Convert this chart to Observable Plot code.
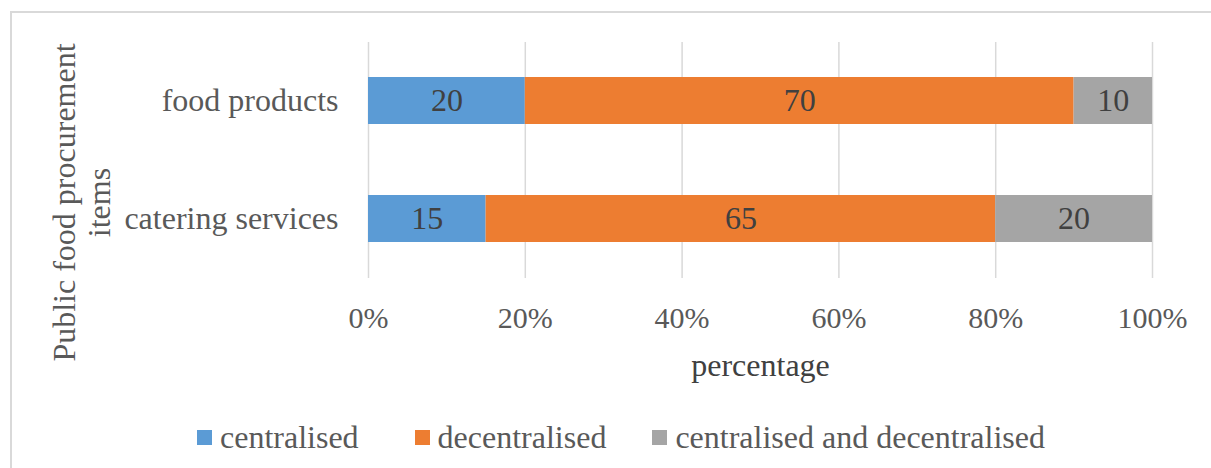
<!DOCTYPE html>
<html>
<head>
<meta charset="utf-8">
<script src="https://cdn.jsdelivr.net/npm/d3@7"></script>
<script src="https://cdn.jsdelivr.net/npm/@observablehq/plot@0.6"></script>
<style>
  html, body { margin: 0; padding: 0; background: #fff; overflow: hidden; }
  #wrap { position: relative; width: 1211px; height: 468px; }
  #frame { position: absolute; left: 10px; top: 11px; width: 1240px; height: 520px; border: 2px solid #d9d9d9; box-sizing: border-box; }
  #chart { position: absolute; left: 0; top: 0; }
  #legend { position: absolute; left: 197px; top: 419px; height: 36px; display: flex; align-items: center;
            font-family: "Liberation Serif", "Times New Roman", serif; font-size: 32px; color: #595959; white-space: nowrap; }
  .item { display: flex; align-items: center; }
  .sw { width: 15px; height: 15px; margin-right: 8px; }
</style>
</head>
<body>
<div id="wrap">
  <div id="frame"></div>
  <div id="chart"></div>
  <div id="legend"></div>
</div>
<script>
const items = ["food products", "catering services"];
const seriesNames = ["centralised", "decentralised", "centralised and decentralised"];
const centralised = [20, 15];
const decentralised = [70, 65];
const centralisedAndDecentralised = [10, 20];
const seriesColors = ["#5B9BD5", "#ED7D31", "#A5A5A5"];
const xTicks = [0, 20, 40, 60, 80, 100];
const yTitle = "Public food procurement\nitems";
const xTitle = "percentage";

const seriesValues = [centralised, decentralised, centralisedAndDecentralised];
const data = [];
seriesNames.forEach((s, si) => {
  items.forEach((it, i) => data.push({item: it, series: s, value: seriesValues[si][i]}));
});

const chart = Plot.plot({
  width: 1211,
  height: 400,
  marginLeft: 368,
  marginRight: 59,
  marginTop: 42,
  marginBottom: 122,
  style: {fontFamily: "'Liberation Serif', 'Times New Roman', serif", fontSize: "30px", color: "#595959", background: "transparent"},
  x: {domain: [0, 100]},
  y: {domain: items, paddingInner: 0.6, paddingOuter: 0.3},
  color: {domain: seriesNames, range: seriesColors},
  marks: [
    Plot.ruleX(xTicks, {stroke: "#d9d9d9", strokeWidth: 1.5}),
    Plot.barX(data, Plot.stackX({x: "value", y: "item", fill: "series", order: seriesNames})),
    Plot.text(data, Plot.stackX({x: "value", y: "item", z: "series", order: seriesNames, text: d => String(d.value), fill: "#404040", fontSize: 32})),
    Plot.axisX({ticks: xTicks, tickFormat: d => d + "%", tickSize: 0, tickPadding: 28, label: null, fontSize: 30}),
    Plot.axisY({tickSize: 0, tickPadding: 30, label: null, fontSize: 32}),
    Plot.text([xTitle], {frameAnchor: "bottom", text: d => d, dy: 87, lineAnchor: "middle", textAnchor: "middle", fill: "#404040", fontSize: 32}),
    Plot.text([yTitle], {frameAnchor: "left", text: d => d, rotate: -90, dx: -287, dy: 42, textAnchor: "middle", lineAnchor: "middle", lineHeight: 1.1, fill: "#595959", fontSize: 32})
  ]
});
document.getElementById("chart").appendChild(chart);

const legend = document.getElementById("legend");
const gaps = [0, 56, 46];
seriesNames.forEach((s, i) => {
  const it = document.createElement("div");
  it.className = "item";
  it.style.marginLeft = gaps[i] + "px";
  const sw = document.createElement("div");
  sw.className = "sw";
  sw.style.background = seriesColors[i];
  const tx = document.createElement("span");
  tx.textContent = s;
  it.appendChild(sw);
  it.appendChild(tx);
  legend.appendChild(it);
});
</script>
</body>
</html>
